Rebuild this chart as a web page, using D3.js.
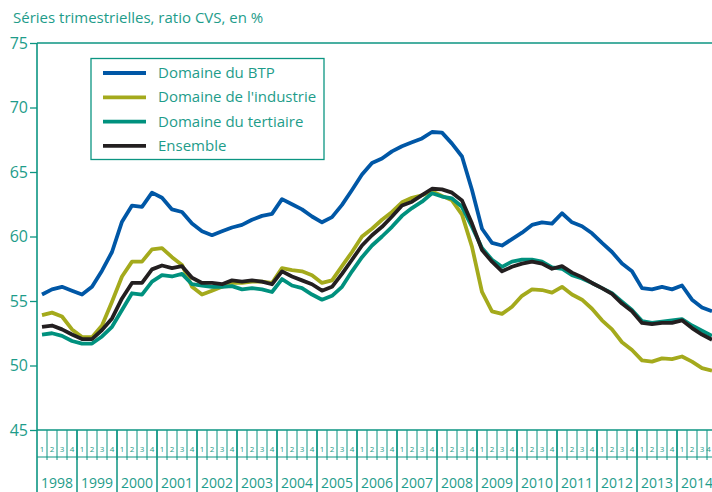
<!DOCTYPE html>
<html>
<head>
<meta charset="utf-8">
<script src="https://cdn.jsdelivr.net/npm/d3@7"></script>
<style>
  body { margin: 0; background: #fff; }
  svg text { font-family: "Open Sans", "Noto Sans", sans-serif; }
</style>
</head>
<body>
<div class="chart"></div>
<script>

// Data (quarterly series, 1998 Q1 -> 2014 Q4)
var years = ["1998", "1999", "2000", "2001", "2002", "2003", "2004", "2005",
    "2006", "2007", "2008", "2009", "2010", "2011", "2012", "2013", "2014"];
var quarters = ["1", "2", "3", "4"];
var yTicks = [45, 50, 55, 60, 65, 70, 75];
var seriesNames = ["Domaine du BTP", "Domaine de l'industrie",
    "Domaine du tertiaire", "Ensemble"];

var btp = [55.5, 55.9, 56.1, 55.8, 55.5, 56.1, 57.35, 58.8,
    61.15, 62.4, 62.3, 63.4, 63.0, 62.1, 61.9, 61.0,
    60.4, 60.1, 60.4, 60.7, 60.9, 61.3, 61.6, 61.75,
    62.9, 62.5, 62.1, 61.55, 61.1, 61.5, 62.45, 63.6,
    64.8, 65.7, 66.05, 66.6, 67.0, 67.3, 67.6, 68.1,
    68.05, 67.2, 66.2, 63.6, 60.6, 59.5, 59.3, 59.8,
    60.3, 60.9, 61.1, 61.0, 61.8, 61.1, 60.8, 60.25,
    59.5, 58.8, 57.9, 57.3, 56.0, 55.9, 56.1, 55.9,
    56.2, 55.1, 54.5, 54.2];

var industrie = [53.9, 54.1, 53.8, 52.8, 52.2, 52.2, 53.1, 54.95,
    56.9, 58.05, 58.05, 59.0, 59.1, 58.4, 57.8, 56.1,
    55.5, 55.8, 56.1, 56.4, 56.4, 56.5, 56.5, 56.4,
    57.55, 57.4, 57.3, 57.0, 56.4, 56.6, 57.7, 58.8,
    60.0, 60.6, 61.3, 61.9, 62.65, 63.0, 63.2, 63.5,
    63.15, 62.8, 61.7, 59.2, 55.7, 54.2, 54.0, 54.55,
    55.4, 55.9, 55.85, 55.65, 56.1, 55.5, 55.1, 54.4,
    53.5, 52.8, 51.8, 51.2, 50.4, 50.3, 50.55, 50.5,
    50.7, 50.3, 49.8, 49.6];

var tertiaire = [52.4, 52.5, 52.3, 51.9, 51.7, 51.7, 52.25, 53.0,
    54.3, 55.6, 55.5, 56.5, 57.0, 56.9, 57.1, 56.3,
    56.2, 56.1, 56.1, 56.15, 55.9, 56.0, 55.9, 55.7,
    56.7, 56.2, 56.0, 55.5, 55.1, 55.4, 56.1, 57.3,
    58.4, 59.3, 60.0, 60.75, 61.6, 62.2, 62.7, 63.35,
    63.1, 62.95, 62.3, 60.75, 59.1, 58.2, 57.65, 58.05,
    58.2, 58.2, 58.05, 57.6, 57.5, 57.0, 56.75, 56.4,
    56.0, 55.6, 54.95, 54.3, 53.45, 53.3, 53.4, 53.5,
    53.6, 53.1, 52.7, 52.3];

var ensemble = [53.0, 53.1, 52.8, 52.4, 52.05, 52.05, 52.75, 53.65,
    55.2, 56.4, 56.4, 57.45, 57.75, 57.55, 57.7, 56.8,
    56.4, 56.4, 56.3, 56.6, 56.5, 56.6, 56.5, 56.3,
    57.3, 56.9, 56.6, 56.3, 55.8, 56.1, 57.1, 58.2,
    59.3, 60.1, 60.75, 61.55, 62.4, 62.7, 63.2, 63.7,
    63.65, 63.4, 62.8, 61.0, 58.95, 58.05, 57.3, 57.65,
    57.9, 58.05, 57.9, 57.5, 57.7, 57.2, 56.85, 56.4,
    56.0, 55.55, 54.8, 54.2, 53.3, 53.2, 53.3, 53.3,
    53.5, 52.9, 52.4, 52.0];

var colors = ["#0057a6", "#a4aa1c", "#00917e", "#231f20"];

// Configuration
var width = 712;
var height = 492;
var axisColor = "#0c9582";
var textColor = "#1e9c8a";

var svg = d3.select(".chart").append("svg")
    .attr("width", width)
    .attr("height", height);

// one key per quarter
var periods = [];
years.forEach(function(y) {
    quarters.forEach(function(q) { periods.push(y + "T" + q); });
});

var x = d3.scaleBand()
    .domain(periods)
    .range([37, 37 + periods.length * 10])
    .padding(0);

var xYear = d3.scaleBand()
    .domain(years)
    .range([37, 37 + years.length * 40]);

var y = d3.scaleLinear()
    .domain([45, 75])
    .range([430, 43]);

// Title
svg.append("text")
    .attr("x", 13)
    .attr("y", 23)
    .attr("fill", textColor)
    .style("font-size", "15px")
    .text("Séries trimestrielles, ratio CVS, en %");

// Y axis
var yAxis = d3.axisLeft(y)
    .tickValues(yTicks)
    .tickSize(7)
    .tickPadding(2);

var gy = svg.append("g")
    .attr("transform", "translate(37,0)")
    .call(yAxis);
gy.select(".domain").remove();
gy.selectAll("line").attr("stroke", axisColor).attr("stroke-width", 1.3);
gy.selectAll("text")
    .attr("fill", textColor)
    .style("font-size", "16px")
    .style("font-family", "'Open Sans', sans-serif");

// frame: left axis and top line
svg.append("line")
    .attr("x1", 37).attr("x2", 37)
    .attr("y1", y(75)).attr("y2", height)
    .attr("stroke", axisColor).attr("stroke-width", 1.6);
svg.append("line")
    .attr("x1", 37).attr("x2", width)
    .attr("y1", y(75)).attr("y2", y(75))
    .attr("stroke", axisColor).attr("stroke-width", 1.3);

// X axis base line
svg.append("line")
    .attr("x1", 37).attr("x2", width)
    .attr("y1", y(45)).attr("y2", y(45))
    .attr("stroke", axisColor).attr("stroke-width", 1.6);
svg.append("line")
    .attr("x1", 37).attr("x2", width)
    .attr("y1", 457).attr("y2", 457)
    .attr("stroke", axisColor).attr("stroke-width", 1);

// Quarter ticks and labels
svg.selectAll(".qtick")
    .data(periods)
    .enter().append("line")
    .attr("class", "qtick")
    .attr("x1", function(d) { return x(d) + x.bandwidth(); })
    .attr("x2", function(d) { return x(d) + x.bandwidth(); })
    .attr("y1", y(45))
    .attr("y2", 460)
    .attr("stroke", axisColor)
    .attr("stroke-width", 1);

svg.selectAll(".qlabel")
    .data(periods)
    .enter().append("text")
    .attr("class", "qlabel")
    .attr("x", function(d) { return Math.min(x(d) + x.bandwidth() / 2, width - 3.5); })
    .attr("y", 452)
    .attr("text-anchor", "middle")
    .attr("fill", textColor)
    .style("font-size", "8px")
    .text(function(d) { return d.split("T")[1]; });

// Year separators and labels
svg.selectAll(".ytick")
    .data(years)
    .enter().append("line")
    .attr("class", "ytick")
    .attr("x1", function(d) { return xYear(d) + xYear.bandwidth(); })
    .attr("x2", function(d) { return xYear(d) + xYear.bandwidth(); })
    .attr("y1", y(45))
    .attr("y2", height)
    .attr("stroke", axisColor)
    .attr("stroke-width", 1.5);

svg.selectAll(".ylabel")
    .data(years)
    .enter().append("text")
    .attr("class", "ylabel")
    .attr("x", function(d) { return xYear(d) + xYear.bandwidth() / 2; })
    .attr("y", 488)
    .attr("text-anchor", "middle")
    .attr("fill", textColor)
    .style("font-size", "14px")
    .text(function(d) { return d; });

// Lines
var line = d3.line()
    .x(function(d, i) { return x(periods[i]) + x.bandwidth() / 2; })
    .y(function(d) { return y(d); });

var allSeries = [btp, industrie, tertiaire, ensemble];

svg.selectAll(".serie")
    .data(allSeries)
    .enter().append("path")
    .attr("class", "serie")
    .attr("fill", "none")
    .attr("stroke", function(d, i) { return colors[i]; })
    .attr("stroke-width", 3.8)
    .attr("stroke-linejoin", "round")
    .attr("d", line);

// Legend
var legend = svg.append("g");
legend.append("rect")
    .attr("x", 91)
    .attr("y", 58.5)
    .attr("width", 233)
    .attr("height", 101)
    .attr("fill", "#fff")
    .attr("stroke", axisColor)
    .attr("stroke-width", 1.3);

var item = legend.selectAll(".item")
    .data(seriesNames)
    .enter().append("g")
    .attr("class", "item")
    .attr("transform", function(d, i) { return "translate(0," + (73 + i * 24.3) + ")"; });

item.append("line")
    .attr("x1", 103).attr("x2", 146)
    .attr("stroke", function(d, i) { return colors[i]; })
    .attr("stroke-width", 3.8);

item.append("text")
    .attr("x", 158)
    .attr("y", 5)
    .attr("fill", textColor)
    .style("font-size", "15px")
    .text(function(d) { return d; });

</script>
</body>
</html>
